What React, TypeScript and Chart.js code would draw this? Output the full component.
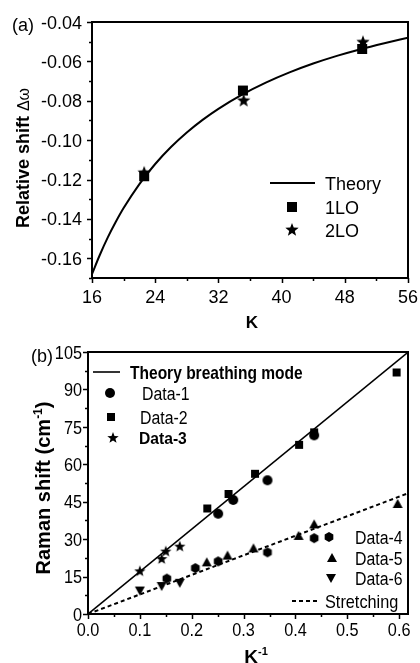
import React, { useEffect, useRef } from "react";
import { Chart, registerables } from "chart.js";
Chart.register(...registerables);

const FONT = "Arial, 'Liberation Sans', sans-serif";

// ---------- Panel (a) data ----------
const theoryK = [16, 17, 18, 19, 20, 22, 24, 26, 28, 30, 32, 35, 38, 41, 44, 47, 50, 53, 56];
const theoryShift = [-0.168, -0.1582, -0.1494, -0.1416, -0.1345, -0.1223, -0.1121, -0.1035, -0.0961, -0.0897, -0.0841, -0.0769, -0.0708, -0.0656, -0.0611, -0.0572, -0.0538, -0.0508, -0.048];
const lo1K = [22.6, 35.1, 50.2];
const lo1Shift = [-0.1183, -0.0748, -0.0537];
const lo2K = [22.6, 35.2, 50.3];
const lo2Shift = [-0.1166, -0.08, -0.0503];
const aXTicks = [16, 24, 32, 40, 48, 56];
const aYTicks = [-0.16, -0.14, -0.12, -0.1, -0.08, -0.06, -0.04];

// ---------- Panel (b) data ----------
const breathX = [0, 0.62];
const breathY = [0, 105.4];
const stretchX = [0, 0.62];
const stretchY = [0, 48.6];
const data1X = [0.251, 0.28, 0.346, 0.436];
const data1Y = [40.2, 45.7, 53.6, 71.6];
const data2X = [0.23, 0.271, 0.322, 0.407, 0.436, 0.595];
const data2Y = [42.3, 48.1, 56.2, 67.8, 72.8, 96.8];
const data3X = [0.1, 0.142, 0.15, 0.177];
const data3Y = [17.1, 22.0, 25.0, 27.0];
const data4X = [0.152, 0.207, 0.251, 0.346, 0.436];
const data4Y = [14.2, 18.4, 21.1, 24.7, 30.4];
const data5X = [0.229, 0.269, 0.319, 0.406, 0.436, 0.597];
const data5Y = [20.7, 23.4, 26.3, 31.3, 35.9, 44.1];
const data6X = [0.1, 0.142, 0.177];
const data6Y = [9.4, 11.2, 12.5];
const bXTicks = [0, 0.1, 0.2, 0.3, 0.4, 0.5, 0.6];
const bXTickLabels = ["0.0", "0.1", "0.2", "0.3", "0.4", "0.5", "0.6"];
const bYTicks = [0, 15, 30, 45, 60, 75, 90, 105];
const bYTickLabels = ["0", "15", "30", "45", "60", "75", "90", "105"];

const pts = (xs: number[], ys: number[]) => xs.map((x, i) => ({ x, y: ys[i] }));

const markerCache: Record<string, HTMLCanvasElement> = {};
function marker(shape: string, size: number): HTMLCanvasElement {
  const key = shape + size;
  if (markerCache[key]) return markerCache[key];
  const s = size + 4;
  const c = document.createElement("canvas");
  c.width = s;
  c.height = s;
  const g = c.getContext("2d")!;
  g.fillStyle = "#000";
  g.translate(s / 2, s / 2);
  const r = size / 2;
  g.beginPath();
  if (shape === "square") {
    g.rect(-r, -r, size, size);
  } else if (shape === "circle") {
    g.arc(0, 0, r, 0, Math.PI * 2);
  } else if (shape === "hexagon") {
    for (let i = 0; i < 6; i++) {
      const a = -Math.PI / 2 + (i * Math.PI) / 3;
      const px = Math.cos(a) * r, py = Math.sin(a) * r;
      if (i === 0) g.moveTo(px, py); else g.lineTo(px, py);
    }
  } else if (shape === "tri") {
    g.moveTo(0, -r);
    g.lineTo(r, r * 0.8);
    g.lineTo(-r, r * 0.8);
  } else if (shape === "dtri") {
    g.moveTo(0, r);
    g.lineTo(r, -r * 0.8);
    g.lineTo(-r, -r * 0.8);
  } else if (shape === "star") {
    for (let i = 0; i < 10; i++) {
      const a = -Math.PI / 2 + (i * Math.PI) / 5;
      const rr = i % 2 === 0 ? r : r * 0.42;
      const px = Math.cos(a) * rr, py = Math.sin(a) * rr;
      if (i === 0) g.moveTo(px, py); else g.lineTo(px, py);
    }
  }
  g.closePath();
  g.fill();
  markerCache[key] = c;
  return c;
}

function ticksFor(min: number, max: number, minor: number, major: number) {
  const out: { v: number; major: boolean }[] = [];
  const k0 = Math.ceil(min / minor - 1e-6);
  const k1 = Math.floor(max / minor + 1e-6);
  for (let k = k0; k <= k1; k++) {
    const v = k * minor;
    const q = v / major;
    out.push({ v, major: Math.abs(q - Math.round(q)) < 1e-6 });
  }
  return out;
}

type Seg = { text: string; font: string; dy?: number };
function drawRich(ctx: CanvasRenderingContext2D, segs: Seg[], cx: number, cy: number, rot: number, sx: number, capH: number) {
  ctx.save();
  ctx.translate(cx, cy);
  ctx.rotate(rot);
  ctx.scale(sx, 1);
  ctx.textBaseline = "alphabetic";
  ctx.textAlign = "left";
  let total = 0;
  for (const s of segs) {
    ctx.font = s.font;
    total += ctx.measureText(s.text).width;
  }
  let x = -total / 2;
  for (const s of segs) {
    ctx.font = s.font;
    ctx.fillText(s.text, x, capH / 2 + (s.dy || 0));
    x += ctx.measureText(s.text).width;
  }
  ctx.restore();
}

const framePlugin = {
  id: "frameTicks",
  afterDatasetsDraw(chart: any, _args: any, opts: any) {
    const { ctx, chartArea: a } = chart;
    const xs = chart.scales.x, ys = chart.scales.y;
    ctx.save();
    ctx.strokeStyle = "#000";
    ctx.lineWidth = opts.lw;
    ctx.strokeRect(a.left, a.top, a.right - a.left, a.bottom - a.top);
    ctx.lineWidth = opts.tw;
    ctx.beginPath();
    for (const t of ticksFor(xs.min, xs.max, opts.xMinor, opts.xMajor)) {
      const p = Math.round(xs.getPixelForValue(t.v)) + 0.5;
      ctx.moveTo(p, a.bottom);
      ctx.lineTo(p, a.bottom + (t.major ? opts.majLen : opts.minLen));
    }
    for (const t of ticksFor(ys.min, ys.max, opts.yMinor, opts.yMajor)) {
      const p = Math.round(ys.getPixelForValue(t.v)) + 0.5;
      ctx.moveTo(a.left, p);
      ctx.lineTo(a.left - (t.major ? opts.majLen : opts.minLen), p);
    }
    ctx.stroke();
    ctx.fillStyle = "#000";
    // tick labels
    const lab = opts.labels;
    if (lab) {
      lab.xVals.forEach((v: number, i: number) => {
        const px = xs.getPixelForValue(v);
        drawRich(ctx, [{ text: lab.xText[i], font: lab.font }], px, a.bottom + lab.xGap + lab.capH / 2, 0, lab.sx, lab.capH);
      });
      lab.yVals.forEach((v: number, i: number) => {
        const py = ys.getPixelForValue(v);
        ctx.save();
        ctx.translate(a.left - lab.yGap, py + lab.capH / 2);
        ctx.scale(lab.sx, 1);
        ctx.font = lab.font;
        ctx.textAlign = "right";
        ctx.textBaseline = "alphabetic";
        ctx.fillText(lab.yText[i], 0, 0);
        ctx.restore();
      });
    }
    // axis titles
    for (const t of opts.titles || []) {
      drawRich(ctx, t.segs, t.cx, t.cy, t.rot, t.sx || 1, t.capH);
    }
    ctx.restore();
  },
};

const legendPlugin = {
  id: "customLegend",
  afterDraw(chart: any, _args: any, opts: any) {
    const ctx = chart.ctx;
    ctx.save();
    ctx.fillStyle = "#000";
    ctx.strokeStyle = "#000";
    for (const it of opts.items || []) {
      if (it.line) {
        ctx.lineWidth = it.lw || 2;
        ctx.setLineDash(it.dash || []);
        ctx.beginPath();
        ctx.moveTo(it.x0, it.y);
        ctx.lineTo(it.x1, it.y);
        ctx.stroke();
        ctx.setLineDash([]);
      }
      if (it.marker) {
        const m = marker(it.marker, it.size);
        ctx.drawImage(m, Math.round(it.mx - m.width / 2), Math.round(it.y - m.height / 2));
      }
      if (it.text) {
        ctx.save();
        ctx.translate(it.tx, it.y + (it.capH || 13) / 2);
        ctx.scale(it.sx || 1, 1);
        ctx.font = it.font;
        ctx.textBaseline = "alphabetic";
        ctx.textAlign = "left";
        ctx.fillText(it.text, 0, 0);
        ctx.restore();
      }
    }
    ctx.restore();
  },
};

function ChartA() {
  const ref = useRef<HTMLCanvasElement>(null);
  useEffect(() => {
    const chart = new Chart(ref.current!, {
      type: "scatter",
      data: {
        datasets: [
          { label: "1LO", data: pts(lo1K, lo1Shift), pointStyle: marker("square", 10) as any, pointRadius: 5, showLine: false },
          { label: "2LO", data: pts(lo2K, lo2Shift), pointStyle: marker("star", 14) as any, pointRadius: 5, showLine: false },
          { label: "Theory", data: pts(theoryK, theoryShift), showLine: true, pointRadius: 0, borderColor: "#000", borderWidth: 2, cubicInterpolationMode: "monotone" as any },
        ],
      },
      options: {
        responsive: false,
        animation: false,
        events: [],
        layout: { padding: { left: 0, right: 12, top: 22, bottom: 0 } },
        plugins: {
          legend: { display: false },
          tooltip: { enabled: false },
          frameTicks: {
            lw: 2, tw: 1.5, majLen: 5, minLen: 3, xMinor: 4, xMajor: 8, yMinor: 0.01, yMajor: 0.02,
            labels: {
              xVals: aXTicks, xText: aXTicks.map((v) => String(v)),
              yVals: aYTicks, yText: aYTicks.map((v) => v.toFixed(2)),
              font: `18px ${FONT}`, sx: 1, capH: 13, xGap: 12, yGap: 10,
            },
            titles: [
              { segs: [{ text: "Relative shift ", font: `bold 18px ${FONT}` }, { text: "Δω", font: `16px ${FONT}` }], cx: 22, cy: 158, rot: -Math.PI / 2, capH: 13 },
              { segs: [{ text: "K", font: `bold 17px ${FONT}` }], cx: 252, cy: 322, rot: 0, capH: 12 },
            ],
          },
          customLegend: {
            items: [
              { text: "(a)", tx: 12, y: 24, font: `18px ${FONT}` },
              { line: true, x0: 270, x1: 315, y: 183, lw: 2, text: "Theory", tx: 325, font: `18px ${FONT}` },
              { marker: "square", size: 10, mx: 292, y: 207, text: "1LO", tx: 325, font: `18px ${FONT}` },
              { marker: "star", size: 14, mx: 292, y: 230, text: "2LO", tx: 325, font: `18px ${FONT}` },
            ],
          },
        } as any,
        scales: {
          x: {
            type: "linear", min: 16, max: 56,
            ticks: { display: false, stepSize: 8 },
            grid: { display: false },
            border: { display: false },
            title: { display: false },
            afterFit: (s: any) => { s.height = 62; },
          },
          y: {
            type: "linear", min: -0.17, max: -0.04,
            ticks: { display: false, stepSize: 0.02 },
            grid: { display: false },
            border: { display: false },
            title: { display: false },
            afterFit: (s: any) => { s.width = 92; },
          },
        },
      },
      plugins: [framePlugin, legendPlugin],
    } as any);
    return () => chart.destroy();
  }, []);
  return <canvas ref={ref} width={420} height={340} style={{ position: "absolute", left: 0, top: 0, width: 420, height: 340 }} />;
}

function ChartB() {
  const ref = useRef<HTMLCanvasElement>(null);
  useEffect(() => {
    const narrow = 0.88;
    const chart = new Chart(ref.current!, {
      type: "scatter",
      data: {
        datasets: [
          { label: "Data-1", data: pts(data1X, data1Y), pointStyle: marker("circle", 10) as any, pointRadius: 5 },
          { label: "Data-2", data: pts(data2X, data2Y), pointStyle: marker("square", 8) as any, pointRadius: 5 },
          { label: "Data-3", data: pts(data3X, data3Y), pointStyle: marker("star", 12) as any, pointRadius: 5 },
          { label: "Data-4", data: pts(data4X, data4Y), pointStyle: marker("hexagon", 10) as any, pointRadius: 5 },
          { label: "Data-5", data: pts(data5X, data5Y), pointStyle: marker("tri", 10) as any, pointRadius: 5 },
          { label: "Data-6", data: pts(data6X, data6Y), pointStyle: marker("dtri", 10) as any, pointRadius: 5 },
          { label: "Theory breathing mode", data: pts(breathX, breathY), showLine: true, pointRadius: 0, borderColor: "#000", borderWidth: 1.6 },
          { label: "Stretching", data: pts(stretchX, stretchY), showLine: true, pointRadius: 0, borderColor: "#000", borderWidth: 2, borderDash: [4, 3] },
        ],
      },
      options: {
        responsive: false,
        animation: false,
        events: [],
        layout: { padding: { left: 0, right: 12, top: 29, bottom: 0 } },
        plugins: {
          legend: { display: false },
          tooltip: { enabled: false },
          frameTicks: {
            lw: 2, tw: 1.5, majLen: 5, minLen: 3, xMinor: 0.05, xMajor: 0.1, yMinor: 7.5, yMajor: 15,
            labels: {
              xVals: bXTicks, xText: bXTickLabels,
              yVals: bYTicks, yText: bYTickLabels,
              font: `18.5px ${FONT}`, sx: narrow, capH: 13.3, xGap: 9, yGap: 6,
            },
            titles: [
              {
                segs: [
                  { text: "Raman shift (cm", font: `bold 20px ${FONT}` },
                  { text: "-1", font: `bold 12px ${FONT}`, dy: -8 },
                  { text: ")", font: `bold 20px ${FONT}` },
                ],
                cx: 43, cy: 165, rot: -Math.PI / 2, capH: 14.5,
              },
              {
                segs: [
                  { text: "K", font: `bold 19px ${FONT}` },
                  { text: "-1", font: `bold 11px ${FONT}`, dy: -8 },
                ],
                cx: 256, cy: 333, rot: 0, capH: 13,
              },
            ],
          },
          customLegend: {
            items: [
              { text: "(b)", tx: 31, y: 32, font: `18px ${FONT}` },
              { line: true, x0: 93, x1: 120, y: 49, lw: 1.6, text: "Theory breathing mode", tx: 130, font: `bold 18.5px ${FONT}`, sx: 0.84, capH: 13.3 },
              { marker: "circle", size: 10, mx: 110, y: 70, text: "Data-1", tx: 142, font: `18px ${FONT}`, sx: narrow, capH: 13 },
              { marker: "square", size: 8, mx: 111, y: 94, text: "Data-2", tx: 140, font: `18px ${FONT}`, sx: narrow, capH: 13 },
              { marker: "star", size: 12, mx: 113, y: 115, text: "Data-3", tx: 139, font: `bold 17px ${FONT}`, sx: 0.92, capH: 12.3 },
              { marker: "hexagon", size: 10, mx: 329, y: 214, text: "Data-4", tx: 355, font: `18px ${FONT}`, sx: narrow, capH: 13 },
              { marker: "tri", size: 10, mx: 332, y: 235, text: "Data-5", tx: 355, font: `18px ${FONT}`, sx: narrow, capH: 13 },
              { marker: "dtri", size: 10, mx: 331, y: 255, text: "Data-6", tx: 355, font: `18px ${FONT}`, sx: narrow, capH: 13 },
              { line: true, x0: 292, x1: 320, y: 278, lw: 2, dash: [4, 3], text: "Stretching", tx: 325, font: `18.5px ${FONT}`, sx: narrow, capH: 13.3 },
            ],
          },
        } as any,
        scales: {
          x: {
            type: "linear", min: 0, max: 0.617,
            ticks: { display: false, stepSize: 0.1 },
            grid: { display: false },
            border: { display: false },
            title: { display: false },
            afterFit: (s: any) => { s.height = 49; },
          },
          y: {
            type: "linear", min: 0, max: 105,
            ticks: { display: false, stepSize: 15 },
            grid: { display: false },
            border: { display: false },
            title: { display: false },
            afterFit: (s: any) => { s.width = 88; },
          },
        },
      },
      plugins: [framePlugin, legendPlugin],
    } as any);
    return () => chart.destroy();
  }, []);
  return <canvas ref={ref} width={420} height={340} style={{ position: "absolute", left: 0, top: 323, width: 420, height: 340 }} />;
}

export default function App() {
  return (
    <div style={{ position: "absolute", left: 0, top: 0, width: 420, height: 663, overflow: "hidden", background: "#fff" }}>
      <ChartA />
      <ChartB />
    </div>
  );
}
